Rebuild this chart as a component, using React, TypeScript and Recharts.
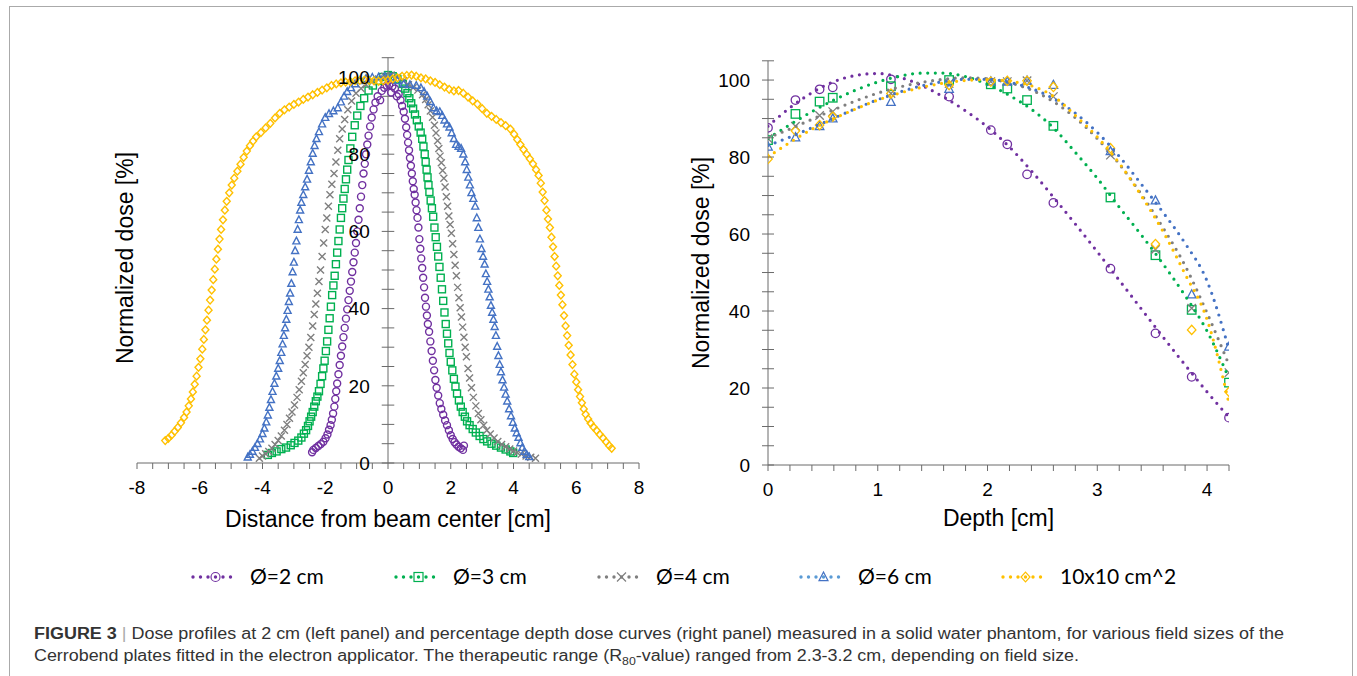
import React from 'react';
import { ScatterChart, Scatter, XAxis, YAxis, ReferenceLine } from 'recharts';

const AXIS_FONT = "'Liberation Sans', Arial, sans-serif";
const LEGEND_FONT = "Lato, 'Open Sans', sans-serif";
const AXIS_COLOR = '#6b6b6b';

const SERIES_NAMES = ['Ø=2 cm', 'Ø=3 cm', 'Ø=4 cm', 'Ø=6 cm', '10x10 cm^2'];
const SERIES_COLORS = ['#7030A0', '#00B050', '#7F7F7F', '#4472C4', '#FFC000'];
const LEGEND_LINE_COLORS = ['#7030A0', '#00B050', '#7F7F7F', '#5B9BD5', '#FFC000'];
const SERIES_MARKERS = ['circle', 'square', 'cross', 'triangle', 'diamond'] as const;

// left panel: dose profiles at 2 cm depth, [distance from beam center (cm), dose (%)]
const profile2cm: number[][] = [
  [-2.42, 2.8], [-2.38, 3.4], [-2.3, 3.9], [-2.22, 4.4], [-2.14, 4.9], [-2.06, 5.5], [-1.99, 6.4], [-1.93, 7.4],
  [-1.88, 8.6], [-1.83, 9.8], [-1.79, 11.2], [-1.75, 12.8], [-1.71, 14.6], [-1.68, 16.6], [-1.65, 18.6], [-1.62, 20.6],
  [-1.58, 23.0], [-1.54, 25.4], [-1.5, 27.8], [-1.46, 30.2], [-1.42, 32.6], [-1.38, 35.0], [-1.34, 37.4], [-1.3, 39.8],
  [-1.26, 42.2], [-1.22, 44.6], [-1.18, 47.0], [-1.14, 49.5], [-1.1, 52.0], [-1.06, 54.5], [-1.02, 57.0], [-0.98, 60.0],
  [-0.94, 63.0], [-0.9, 66.0], [-0.86, 69.0], [-0.82, 72.0], [-0.78, 75.0], [-0.74, 77.5], [-0.7, 80.0], [-0.66, 82.5],
  [-0.62, 84.8], [-0.57, 87.2], [-0.52, 89.5], [-0.46, 91.6], [-0.4, 93.4], [-0.33, 95.0], [-0.25, 94.0], [-0.2, 96.4],
  [-0.12, 97.2], [-0.04, 97.8], [0.04, 98.0], [0.1, 96.0], [0.14, 97.6], [0.22, 97.0], [0.28, 95.0], [0.34, 95.6],
  [0.4, 94.0], [0.45, 92.5], [0.5, 91.0], [0.54, 89.2], [0.58, 87.0], [0.61, 85.0], [0.64, 83.0], [0.67, 81.0],
  [0.7, 79.0], [0.73, 77.0], [0.76, 75.0], [0.79, 73.0], [0.82, 71.0], [0.85, 69.5], [0.88, 67.5], [0.91, 65.5],
  [0.94, 63.5], [0.97, 61.0], [1.0, 58.0], [1.03, 55.5], [1.06, 53.0], [1.09, 50.5], [1.12, 48.0], [1.15, 45.5],
  [1.18, 42.8], [1.21, 40.5], [1.24, 38.2], [1.27, 36.0], [1.31, 34.0], [1.35, 31.5], [1.39, 29.0], [1.43, 26.5],
  [1.47, 24.0], [1.51, 21.5], [1.55, 19.5], [1.6, 17.5], [1.65, 15.5], [1.7, 14.0], [1.76, 12.5], [1.82, 11.0],
  [1.88, 9.8], [1.94, 8.5], [2.0, 7.2], [2.06, 6.2], [2.12, 5.4], [2.18, 4.8], [2.25, 4.2], [2.32, 3.8],
  [2.39, 3.4], [2.42, 4.5],
];

const profile3cm: number[][] = [
  [-3.83, 2.1], [-3.7, 2.6], [-3.55, 3.0], [-3.4, 3.6], [-3.25, 4.0], [-3.1, 4.6], [-2.98, 5.2], [-2.86, 5.8],
  [-2.76, 6.6], [-2.68, 7.6], [-2.61, 8.5], [-2.55, 9.6], [-2.5, 10.8], [-2.45, 12.0], [-2.4, 13.2], [-2.35, 14.6],
  [-2.3, 16.0], [-2.25, 17.2], [-2.2, 18.6], [-2.15, 20.5], [-2.1, 22.5], [-2.06, 24.5], [-2.02, 26.5], [-1.98, 29.0],
  [-1.94, 31.5], [-1.9, 34.5], [-1.86, 37.5], [-1.82, 40.5], [-1.78, 43.5], [-1.74, 46.0], [-1.7, 48.5], [-1.66, 51.5],
  [-1.62, 54.5], [-1.58, 57.5], [-1.54, 60.5], [-1.5, 63.5], [-1.46, 66.0], [-1.42, 68.5], [-1.38, 71.0], [-1.34, 73.5],
  [-1.3, 76.0], [-1.26, 78.5], [-1.2, 81.5], [-1.14, 84.5], [-1.06, 87.5], [-0.98, 90.0], [-0.88, 92.5], [-0.76, 94.5],
  [-0.62, 96.5], [-0.48, 97.8], [-0.32, 99.0], [-0.16, 100.0], [0.0, 100.5], [0.15, 100.2], [0.3, 99.4], [0.47, 98.2],
  [0.55, 97.0], [0.62, 95.8], [0.68, 94.5], [0.74, 93.2], [0.8, 91.8], [0.86, 90.3], [0.92, 88.8], [0.98, 87.2],
  [1.04, 85.6], [1.09, 84.0], [1.13, 82.0], [1.17, 80.0], [1.2, 78.0], [1.23, 76.0], [1.26, 74.0], [1.29, 72.0],
  [1.32, 70.2], [1.36, 68.0], [1.4, 66.0], [1.44, 63.8], [1.48, 61.0], [1.52, 58.5], [1.56, 56.0], [1.6, 53.5],
  [1.64, 50.8], [1.68, 48.0], [1.72, 45.0], [1.76, 42.0], [1.8, 39.0], [1.84, 36.0], [1.88, 33.5], [1.92, 31.0],
  [1.96, 28.5], [2.0, 26.2], [2.05, 24.0], [2.1, 21.8], [2.15, 19.8], [2.2, 18.0], [2.26, 16.2], [2.32, 14.6],
  [2.38, 13.2], [2.45, 12.0], [2.52, 10.8], [2.6, 9.8], [2.7, 8.8], [2.8, 7.9], [2.92, 7.0], [3.04, 6.2],
  [3.16, 5.6], [3.3, 5.0], [3.45, 4.5], [3.6, 4.0], [3.75, 3.5], [3.9, 3.0], [3.99, 2.6],
];

const profile4cm: number[][] = [
  [-4.1, 1.2], [-4.0, 1.8], [-3.9, 2.4], [-3.8, 3.0], [-3.7, 3.8], [-3.6, 4.8], [-3.5, 5.8], [-3.4, 7.0],
  [-3.3, 8.5], [-3.22, 10.0], [-3.14, 11.6], [-3.06, 13.2], [-2.98, 15.0], [-2.9, 17.0], [-2.83, 19.0], [-2.76, 21.2],
  [-2.7, 23.4], [-2.64, 25.5], [-2.58, 27.8], [-2.52, 30.0], [-2.46, 32.5], [-2.4, 35.5], [-2.35, 38.5], [-2.3, 41.2],
  [-2.25, 44.0], [-2.2, 47.0], [-2.15, 50.0], [-2.1, 53.5], [-2.05, 57.0], [-2.0, 60.5], [-1.95, 63.5], [-1.9, 66.5],
  [-1.85, 69.5], [-1.79, 72.2], [-1.72, 75.0], [-1.66, 78.0], [-1.6, 81.0], [-1.54, 84.0], [-1.46, 86.5], [-1.38, 89.0],
  [-1.28, 91.5], [-1.16, 93.8], [-1.02, 95.8], [-0.86, 97.0], [-0.7, 98.0], [-0.5, 98.8], [-0.3, 99.5], [-0.1, 100.2],
  [0.1, 100.5], [0.3, 100.0], [0.5, 99.0], [0.65, 98.0], [0.8, 97.2], [0.95, 96.6], [1.1, 95.4], [1.2, 94.2],
  [1.28, 92.8], [1.35, 91.2], [1.42, 89.6], [1.48, 87.5], [1.53, 85.5], [1.58, 83.5], [1.62, 81.5], [1.66, 79.5],
  [1.7, 77.8], [1.74, 75.8], [1.78, 73.8], [1.82, 71.5], [1.86, 69.0], [1.9, 66.5], [1.94, 64.0], [1.98, 61.8],
  [2.02, 59.5], [2.06, 56.8], [2.1, 54.0], [2.14, 51.2], [2.18, 48.5], [2.22, 45.5], [2.26, 42.8], [2.3, 40.2],
  [2.34, 37.8], [2.38, 35.2], [2.42, 32.6], [2.46, 30.0], [2.5, 27.5], [2.55, 24.5], [2.6, 22.0], [2.66, 19.5],
  [2.72, 17.0], [2.8, 14.8], [2.88, 12.8], [2.96, 11.2], [3.05, 9.8], [3.15, 8.5], [3.26, 7.5], [3.38, 6.5],
  [3.5, 5.6], [3.62, 4.8], [3.75, 4.2], [3.88, 3.6], [4.0, 3.1], [4.12, 2.7], [4.25, 2.3], [4.4, 1.8],
  [4.55, 1.5], [4.7, 1.2],
];

const profile6cm: number[][] = [
  [-4.47, 1.5], [-4.4, 2.2], [-4.32, 3.0], [-4.24, 4.0], [-4.16, 5.0], [-4.08, 6.2], [-4.0, 7.6], [-3.94, 9.0],
  [-3.88, 10.6], [-3.83, 12.4], [-3.78, 14.4], [-3.73, 16.4], [-3.68, 18.5], [-3.62, 20.6], [-3.56, 22.5], [-3.5, 24.5],
  [-3.45, 26.5], [-3.4, 28.6], [-3.36, 30.8], [-3.32, 33.0], [-3.28, 35.0], [-3.24, 37.2], [-3.2, 39.5], [-3.16, 41.8],
  [-3.12, 44.0], [-3.08, 46.5], [-3.04, 49.5], [-3.0, 52.0], [-2.96, 55.0], [-2.92, 57.5], [-2.88, 60.5], [-2.84, 63.0],
  [-2.8, 65.5], [-2.76, 67.5], [-2.7, 69.5], [-2.64, 71.5], [-2.58, 73.5], [-2.52, 75.8], [-2.46, 78.0], [-2.4, 80.2],
  [-2.34, 82.2], [-2.28, 84.0], [-2.2, 85.8], [-2.1, 87.8], [-2.0, 89.5], [-1.88, 90.5], [-1.74, 91.2], [-1.6, 92.0],
  [-1.5, 93.5], [-1.4, 95.0], [-1.3, 96.2], [-1.18, 97.2], [-1.05, 98.2], [-0.9, 99.0], [-0.7, 99.6], [-0.5, 99.9],
  [-0.3, 100.0], [-0.1, 100.2], [0.1, 100.0], [0.3, 99.0], [0.5, 98.2], [0.7, 98.0], [0.9, 97.8], [1.05, 97.2],
  [1.15, 96.2], [1.25, 95.0], [1.35, 93.6], [1.45, 92.0], [1.55, 91.2], [1.65, 91.0], [1.73, 90.0], [1.8, 88.8],
  [1.88, 87.8], [1.96, 87.0], [2.03, 85.5], [2.1, 84.0], [2.17, 82.5], [2.25, 82.0], [2.33, 81.5], [2.4, 80.0],
  [2.46, 78.0], [2.51, 76.0], [2.56, 74.0], [2.61, 72.0], [2.66, 70.0], [2.72, 68.5], [2.78, 66.5], [2.83, 63.5],
  [2.88, 61.0], [2.93, 58.0], [2.98, 55.5], [3.03, 53.5], [3.08, 51.5], [3.12, 49.0], [3.16, 47.0], [3.2, 45.0],
  [3.24, 43.0], [3.28, 40.8], [3.32, 39.0], [3.36, 37.2], [3.4, 35.3], [3.44, 33.0], [3.48, 30.2], [3.52, 27.8],
  [3.56, 25.5], [3.6, 23.6], [3.65, 21.5], [3.7, 19.6], [3.75, 17.8], [3.8, 16.0], [3.86, 14.0], [3.92, 12.2],
  [3.98, 10.5], [4.04, 9.0], [4.1, 7.8], [4.16, 6.6], [4.22, 5.2], [4.28, 4.0], [4.35, 3.0], [4.42, 2.2],
  [4.5, 1.6],
];

const profile10x10: number[][] = [
  [-7.1, 5.8], [-7.0, 6.4], [-6.9, 7.2], [-6.8, 8.2], [-6.7, 9.2], [-6.6, 10.4], [-6.5, 11.8], [-6.42, 13.2],
  [-6.35, 14.8], [-6.28, 16.6], [-6.22, 18.4], [-6.16, 20.4], [-6.1, 22.5], [-6.04, 24.8], [-5.98, 27.0], [-5.92, 29.5],
  [-5.87, 32.0], [-5.82, 34.5], [-5.77, 37.0], [-5.72, 39.6], [-5.67, 42.2], [-5.62, 44.8], [-5.57, 47.5], [-5.52, 50.2],
  [-5.47, 52.8], [-5.42, 55.4], [-5.37, 58.0], [-5.32, 60.5], [-5.26, 63.0], [-5.2, 65.5], [-5.14, 67.8], [-5.06, 70.0],
  [-4.98, 72.0], [-4.9, 73.8], [-4.8, 75.6], [-4.7, 77.4], [-4.6, 79.2], [-4.5, 80.8], [-4.4, 82.2], [-4.3, 83.4],
  [-4.2, 84.5], [-4.05, 85.6], [-3.9, 86.8], [-3.75, 88.0], [-3.6, 89.4], [-3.45, 90.6], [-3.3, 91.5], [-3.15, 92.2],
  [-3.0, 92.9], [-2.85, 93.5], [-2.7, 94.2], [-2.55, 94.8], [-2.4, 95.4], [-2.25, 96.0], [-2.1, 96.6], [-1.95, 97.2],
  [-1.8, 97.8], [-1.65, 98.2], [-1.5, 98.5], [-1.35, 98.7], [-1.2, 98.8], [-1.05, 99.0], [-0.9, 99.1], [-0.75, 99.2],
  [-0.6, 99.1], [-0.45, 99.0], [-0.3, 98.9], [-0.15, 99.0], [0.0, 99.2], [0.15, 99.5], [0.3, 99.8], [0.45, 100.2],
  [0.6, 100.4], [0.75, 100.5], [0.9, 100.2], [1.05, 99.8], [1.2, 99.5], [1.35, 99.0], [1.5, 98.6], [1.65, 98.0],
  [1.8, 97.4], [1.95, 96.8], [2.1, 96.4], [2.25, 96.5], [2.4, 95.8], [2.55, 94.8], [2.7, 93.8], [2.85, 93.0],
  [3.0, 91.8], [3.15, 90.6], [3.3, 89.8], [3.45, 89.0], [3.6, 88.2], [3.75, 87.4], [3.9, 86.5], [4.02, 85.2],
  [4.12, 83.8], [4.22, 82.5], [4.32, 81.2], [4.42, 80.0], [4.52, 78.8], [4.62, 77.5], [4.72, 76.0], [4.8, 74.5],
  [4.87, 72.5], [4.93, 70.2], [4.99, 68.0], [5.05, 65.5], [5.1, 63.2], [5.16, 61.0], [5.21, 58.5], [5.26, 56.0],
  [5.31, 53.5], [5.36, 51.0], [5.41, 48.5], [5.46, 46.0], [5.51, 43.5], [5.56, 41.0], [5.61, 38.2], [5.66, 35.5],
  [5.71, 33.0], [5.76, 30.5], [5.82, 28.0], [5.88, 25.5], [5.94, 23.0], [6.0, 21.0], [6.06, 19.0], [6.12, 17.2],
  [6.18, 15.6], [6.24, 14.0], [6.3, 12.6], [6.38, 11.4], [6.46, 10.3], [6.55, 9.3], [6.65, 8.4], [6.75, 7.4],
  [6.85, 6.5], [6.95, 5.5], [7.05, 4.5], [7.13, 3.8],
];

// right panel: measured depth dose points
const depths = [0, 0.25, 0.47, 0.59, 1.12, 1.65, 2.03, 2.18, 2.36, 2.6, 3.12, 3.53, 3.86, 4.2];
const pdd2cm = [87.6, 94.8, 97.6, 98.1, 100.2, 95.7, 87.0, 83.3, 75.5, 68.1, 51.0, 34.2, 22.9, 12.3];
const pdd3cm = [84.4, 91.2, 94.4, 95.4, 98.4, 100.0, 98.9, 97.8, 94.8, 88.1, 69.5, 54.5, 40.3, 21.4];
const pdd4cm = [84.8, 88.0, 90.8, 91.8, 96.5, 99.1, 99.6, 99.6, 99.8, 95.7, 80.5, 56.0, 40.7, 24.0];
const pdd6cm = [82.7, 85.1, 88.0, 90.0, 94.3, 97.7, 99.6, 99.6, 99.8, 98.7, 81.5, 68.7, 44.3, 30.7];
const pdd10x10 = [79.5, 86.8, 88.3, 90.5, 96.5, 98.7, 99.6, 99.8, 99.8, 98.2, 82.3, 57.4, 35.1, 19.0];

// right panel: dotted polynomial trendlines read at 0.2 cm steps
const fitDepths = [0, 0.2, 0.4, 0.6, 0.8, 1.0, 1.2, 1.4, 1.6, 1.8, 2.0, 2.2, 2.4, 2.6, 2.8, 3.0, 3.2, 3.4, 3.6, 3.8, 4.0, 4.2];
const fit2cm = [88.0, 92.8, 96.7, 99.6, 101.2, 101.7, 100.7, 98.6, 95.6, 92.0, 87.8, 82.6, 76.4, 69.6, 62.6, 55.4, 48.0, 40.6, 33.2, 26.0, 19.0, 12.4];
const fit3cm = [84.8, 88.4, 91.8, 94.8, 97.4, 99.5, 101.0, 101.8, 101.8, 100.9, 98.9, 96.0, 92.4, 87.6, 81.2, 74.5, 67.0, 59.8, 52.2, 44.0, 34.8, 22.5];
const fit4cm = [85.0, 87.3, 89.8, 92.3, 94.6, 96.6, 98.2, 99.4, 100.2, 100.6, 100.3, 99.3, 97.4, 94.4, 90.2, 84.8, 78.2, 70.4, 61.6, 51.8, 39.5, 26.0];
const fit6cm = [83.0, 85.2, 87.6, 90.1, 92.6, 94.9, 96.9, 98.5, 99.6, 100.2, 100.2, 99.4, 97.8, 95.2, 91.4, 86.4, 80.2, 73.0, 65.6, 57.6, 47.8, 30.0];
const fit10x10 = [80.0, 83.8, 87.2, 90.0, 92.5, 94.8, 96.6, 98.1, 99.2, 99.9, 100.1, 99.7, 98.5, 95.8, 90.8, 85.2, 78.4, 70.0, 60.6, 49.6, 37.8, 16.0];

// axis ticks
const distanceTicks = [-8, -7.5, -7, -6.5, -6, -5.5, -5, -4.5, -4, -3.5, -3, -2.5, -2, -1.5, -1, -0.5, 0, 0.5, 1, 1.5, 2, 2.5, 3, 3.5, 4, 4.5, 5, 5.5, 6, 6.5, 7, 7.5, 8];
const depthTicks = [0, 0.2, 0.4, 0.6, 0.8, 1.0, 1.2, 1.4, 1.6, 1.8, 2.0, 2.2, 2.4, 2.6, 2.8, 3.0, 3.2, 3.4, 3.6, 3.8, 4.0, 4.2];
const doseTicks = [0, 5, 10, 15, 20, 25, 30, 35, 40, 45, 50, 55, 60, 65, 70, 75, 80, 85, 90, 95, 100, 105];

const profiles = [profile2cm, profile3cm, profile4cm, profile6cm, profile10x10];
const pdds = [pdd2cm, pdd3cm, pdd4cm, pdd6cm, pdd10x10];
const fits = [fit2cm, fit3cm, fit4cm, fit6cm, fit10x10];

type MarkerKind = (typeof SERIES_MARKERS)[number];

function Marker({ cx, cy, kind, color, size, sw }: { cx: number; cy: number; kind: MarkerKind; color: string; size: number; sw: number }) {
  if (cx == null || cy == null || isNaN(cx) || isNaN(cy)) return null;
  const h = size / 2;
  const common = { fill: 'none', stroke: color, strokeWidth: sw };
  switch (kind) {
    case 'circle':
      return <circle cx={cx} cy={cy} r={h} {...common} />;
    case 'square':
      return <rect x={cx - h} y={cy - h} width={size} height={size} {...common} />;
    case 'cross':
      return <path d={`M${cx - h},${cy - h}L${cx + h},${cy + h}M${cx - h},${cy + h}L${cx + h},${cy - h}`} {...common} />;
    case 'triangle':
      return <path d={`M${cx},${cy - h * 1.1}L${cx + h},${cy + h * 0.8}L${cx - h},${cy + h * 0.8}Z`} {...common} />;
    default:
      return <path d={`M${cx},${cy - h * 1.1}L${cx + h},${cy}L${cx},${cy + h * 1.1}L${cx - h},${cy}Z`} {...common} />;
  }
}

const shapeFor = (kind: MarkerKind, color: string, size: number, sw: number) => (p: any) => (
  <Marker cx={p.cx} cy={p.cy} kind={kind} color={color} size={size} sw={sw} />
);

const tickStyle = { fill: '#000', fontSize: 19, fontFamily: AXIS_FONT };

function DoseTick(props: any) {
  const { x, y, payload } = props;
  const axisX = x + 18;
  const v = payload.value;
  return (
    <g>
      <line x1={axisX - 6} x2={axisX + 6} y1={y} y2={y} stroke={AXIS_COLOR} strokeWidth={1} />
      {v % 20 === 0 && (
        <text x={x} y={y} dy="0.355em" textAnchor="end" {...tickStyle}>
          {v}
        </text>
      )}
    </g>
  );
}

function ProfilePanel() {
  return (
    <ScatterChart width={660} height={540} margin={{ top: 57.7, right: 21, bottom: 13, left: 137 }}>
      <XAxis
        type="number"
        dataKey="x"
        domain={[-8, 8]}
        ticks={distanceTicks}
        interval={0}
        allowDataOverflow
        tickFormatter={(v: number) => (v % 2 === 0 ? String(v) : '')}
        stroke={AXIS_COLOR}
        tickSize={6}
        tickMargin={12}
        tick={tickStyle}
        height={64}
        label={{ value: 'Distance from beam center [cm]', position: 'insideBottom', offset: 0, fill: '#000', fontSize: 23, fontFamily: AXIS_FONT }}
      />
      <YAxis type="number" dataKey="y" domain={[0, 105]} hide />
      <ReferenceLine x={0} stroke={AXIS_COLOR} ifOverflow="visible" />
      {doseTicks.map((v) => (
        <ReferenceLine
          key={v}
          segment={[{ x: -0.2, y: v }, { x: 0.2, y: v }]}
          stroke={AXIS_COLOR}
          ifOverflow="visible"
          label={v % 20 === 0 ? { value: String(v), position: 'left', offset: 12, fill: '#000', fontSize: 19, fontFamily: AXIS_FONT } : undefined}
        />
      ))}
      {profiles.map((arr, i) => (
        <Scatter
          key={SERIES_NAMES[i]}
          name={SERIES_NAMES[i]}
          data={arr.map(([x, y]) => ({ x, y }))}
          shape={shapeFor(SERIES_MARKERS[i], SERIES_COLORS[i], 7, 1.4)}
          isAnimationActive={false}
        />
      ))}
    </ScatterChart>
  );
}

function DepthDosePanel() {
  return (
    <ScatterChart width={600} height={540} margin={{ top: 60.8, right: 51, bottom: 11, left: 0 }}>
      <XAxis
        type="number"
        dataKey="x"
        domain={[0, 4.2]}
        ticks={depthTicks}
        interval={0}
        allowDataOverflow
        tickFormatter={(v: number) => (Number.isInteger(v) ? String(v) : '')}
        stroke={AXIS_COLOR}
        tickSize={6}
        tickMargin={12}
        tick={tickStyle}
        height={64}
        label={{ value: 'Depth [cm]', position: 'insideBottom', offset: 3, fill: '#000', fontSize: 23, fontFamily: AXIS_FONT }}
      />
      <YAxis
        type="number"
        dataKey="y"
        domain={[0, 105]}
        ticks={doseTicks}
        interval={0}
        width={88}
        stroke={AXIS_COLOR}
        tickLine={false}
        tickSize={6}
        tickMargin={12}
        tick={(p: any) => <DoseTick {...p} />}
        label={{ value: 'Normalized dose [%]', angle: -90, position: 'insideLeft', offset: 21, fill: '#000', fontSize: 23, fontFamily: AXIS_FONT, style: { textAnchor: 'middle' } }}
      />
      {pdds.map((vals, i) => (
        <Scatter
          key={'m' + i}
          name={SERIES_NAMES[i]}
          data={depths.map((d, j) => ({ x: d, y: vals[j] }))}
          shape={shapeFor(SERIES_MARKERS[i], SERIES_COLORS[i], 8.5, 1.3)}
          isAnimationActive={false}
        />
      ))}
      {fits.map((vals, i) => (
        <Scatter
          key={'f' + i}
          name={SERIES_NAMES[i] + ' fit'}
          data={fitDepths.map((d, j) => ({ x: d, y: vals[j] }))}
          line={{ stroke: SERIES_COLORS[i], strokeWidth: 3.2, strokeDasharray: '0 7.6', strokeLinecap: 'round' }}
          lineJointType="monotoneX"
          shape={() => <g />}
          isAnimationActive={false}
        />
      ))}
    </ScatterChart>
  );
}

function Overlay() {
  const legendX = [190, 393, 596, 798, 1000];
  return (
    <svg width={1357} height={676} style={{ position: 'absolute', left: 0, top: 0, pointerEvents: 'none' }}>
      <text x={125} y={258} transform="rotate(-90 125 258)" textAnchor="middle" dy="0.355em" fill="#000" fontSize={23} fontFamily={AXIS_FONT}>
        Normalized dose [%]
      </text>
      {SERIES_NAMES.map((name, i) => {
        const x0 = legendX[i];
        return (
          <g key={name}>
            <line x1={x0 + 3} x2={x0 + 48} y1={577} y2={577} stroke={LEGEND_LINE_COLORS[i]} strokeWidth={3.4} strokeDasharray="0 7.5" strokeLinecap="round" />
            <Marker cx={x0 + 25.5} cy={577} kind={SERIES_MARKERS[i]} color={SERIES_COLORS[i]} size={9} sw={1.2} />
            <text x={x0 + 60} y={577} dy="0.35em" fill="#000" fontSize={21} fontFamily={LEGEND_FONT}>
              {name}
            </text>
          </g>
        );
      })}
      <text x={34} y={639} fontSize={16} fill="#333" fontFamily={AXIS_FONT} textLength={1250} lengthAdjust="spacingAndGlyphs" style={{ whiteSpace: 'pre' }}>
        <tspan fontWeight="bold">FIGURE 3</tspan>
        <tspan fill="#aaa"> | </tspan>
        <tspan>Dose profiles at 2 cm (left panel) and percentage depth dose curves (right panel) measured in a solid water phantom, for various field sizes of the</tspan>
      </text>
      <text x={34} y={661} fontSize={16} fill="#333" fontFamily={AXIS_FONT} textLength={1045} lengthAdjust="spacingAndGlyphs" style={{ whiteSpace: 'pre' }}>
        <tspan>Cerrobend plates fitted in the electron applicator. The therapeutic range (R</tspan>
        <tspan fontSize={11} dy={4}>80</tspan>
        <tspan dy={-4}>-value) ranged from 2.3-3.2 cm, depending on field size.</tspan>
      </text>
    </svg>
  );
}

export default function App() {
  return (
    <div style={{ position: 'absolute', left: 0, top: 0, width: 1357, height: 676, background: '#fff', overflow: 'hidden' }}>
      <div
        style={{
          position: 'absolute',
          left: 9,
          top: 6,
          width: 1344,
          height: 700,
          borderTop: '1.5px solid #aaa',
          borderLeft: '1.5px solid #aaa',
          borderRight: '1.5px solid #aaa',
          boxSizing: 'border-box',
        }}
      />
      <div style={{ position: 'absolute', left: 0, top: 0 }}>
        <ProfilePanel />
      </div>
      <div style={{ position: 'absolute', left: 680, top: 0 }}>
        <DepthDosePanel />
      </div>
      <Overlay />
    </div>
  );
}
